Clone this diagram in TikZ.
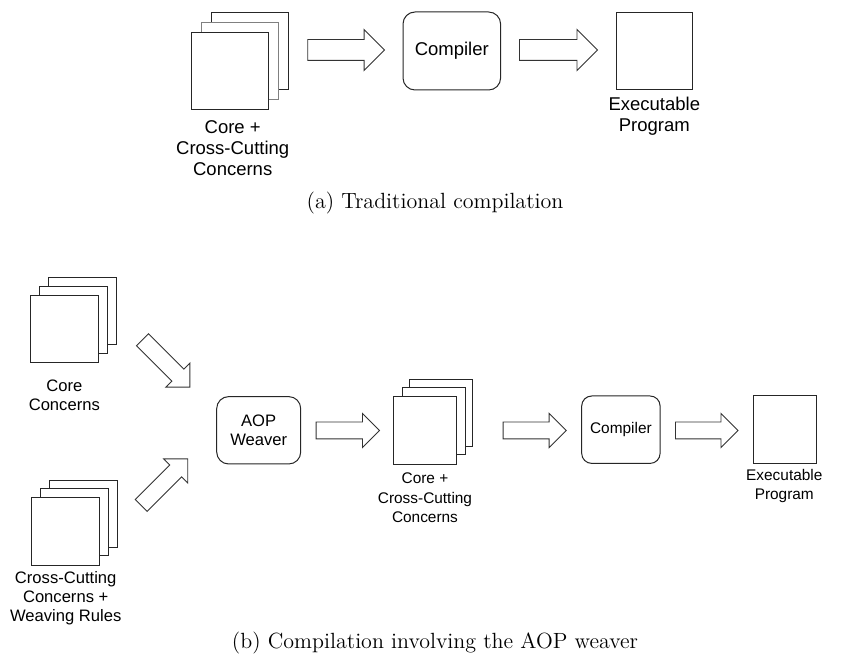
\documentclass[tikz,border=0pt]{standalone}
\usepackage{fontspec}
\newfontfamily\diagfont{Liberation Sans}
\usetikzlibrary{shapes.arrows}

\begin{document}
\begin{tikzpicture}[x=0.5pt, y=-0.5pt,
  page/.style={draw=black!85, fill=white, line width=0.5pt, inner sep=0pt},
  proc/.style={draw=black!85, fill=white, line width=0.5pt, inner sep=0pt, align=center},
  fatarrow/.style={single arrow, draw=black!80, fill=white, line width=0.45pt,
    inner xsep=0pt, single arrow head indent=0pt, anchor=tail},
  biglabel/.style={align=center, font=\diagfont\fontsize{9.25}{10.5}\selectfont},
  leftlabel/.style={align=center, font=\diagfont\fontsize{8.3}{9.5}\selectfont},
  smalllabel/.style={align=center, font=\diagfont\fontsize{7.7}{9.6}\selectfont},
  caption/.style={font=\fontsize{11}{13}\selectfont}]

\useasboundingbox (0,0) rectangle (862,657);

% Draw (a): traditional compilation
\begin{scope}[every node/.append style={minimum width=38.3pt, minimum height=38.5pt}]
\node[page] (srcA3) at (249.7,50.8) {};
\node[page, draw=black!50] (srcA2) at (239.7,60.8) {};
\node[page] (srcA1) at (229.7,70.8) {};
\node[page] (exeA) at (654.3,50.8) {};
\end{scope}
\node[biglabel] (srcAtext) at (232.7,147.7) {Core +\\Cross-Cutting\\Concerns};
\node[biglabel] (exeAtext) at (654.3,116.2) {Executable\\Program};

\node[proc, rounded corners=6pt, minimum width=48.8pt, minimum height=39pt,
  font=\diagfont\fontsize{9.25}{10.5}\selectfont] (compA) at (451.8,51) {Compiler};

% Block arrows of (a), placed by their tails
\begin{scope}[every node/.append style={inner ysep=5pt, single arrow head extend=5pt}]
\node[fatarrow, minimum height=38.4pt] (arrA1) at (307.3,50) {};
\node[fatarrow, minimum height=39pt] (arrA2) at (519,50) {};
\end{scope}

\node[caption] (capA) at (435,203) {(a) Traditional compilation};

% Draw (b): compilation with the weaver
% Core concerns
\begin{scope}[every node/.append style={minimum width=34pt, minimum height=33.6pt}]
\node[page] (coreB3) at (82.2,311.4) {};
\node[page] (coreB2) at (73.7,320) {};
\node[page] (coreB1) at (64.7,329.2) {};
% Cross-cutting concerns and weaving rules
\node[page] (ccB3) at (83,513.7) {};
\node[page] (ccB2) at (74.5,522.2) {};
\node[page] (ccB1) at (65.5,531.4) {};
\end{scope}
\node[leftlabel] (coreBtext) at (64.3,395.5) {Core\\Concerns};
\node[leftlabel] (ccBtext) at (65.7,598.3) {Cross-Cutting\\Concerns +\\Weaving Rules};

\node[proc, rounded corners=6pt, minimum width=42pt, minimum height=33.7pt,
  font=\diagfont\fontsize{8.3}{9.4}\selectfont] (weaver) at (258.7,430.3) {AOP\\Weaver};

% Woven program
\begin{scope}[every node/.append style={minimum width=31.5pt, minimum height=33.7pt}]
\node[page] (wovenB3) at (441.4,413) {};
\node[page] (wovenB2) at (433.7,421.2) {};
\node[page] (wovenB1) at (425.2,430.5) {};
\node[page] (exeB) at (784.7,429.7) {};
\end{scope}
\node[smalllabel] (wovenBtext) at (425,497.7) {Core +\\Cross-Cutting\\Concerns};
\node[smalllabel] (exeBtext) at (784.3,486.2) {Executable\\Program};

\node[proc, rounded corners=5pt, minimum width=39.2pt, minimum height=33.7pt,
  font=\diagfont\fontsize{7.7}{9.4}\selectfont] (compB) at (620.9,429.7) {Compiler};

% Block arrows of (b), placed by their tails
\begin{scope}[every node/.append style={inner ysep=4pt, single arrow head extend=4.3pt}]
\node[fatarrow, minimum height=33.5pt, rotate=-45] (arrCore) at (142.2,339.5) {};
\node[fatarrow, minimum height=33pt, rotate=45] (arrCC) at (140.8,505.8) {};
\node[fatarrow, minimum height=31.7pt] (arrB1) at (315.7,430.5) {};
\node[fatarrow, minimum height=31.5pt] (arrB2) at (502.7,430.5) {};
\node[fatarrow, minimum height=31.3pt] (arrB3) at (675,430.5) {};
\end{scope}

\node[caption] (capB) at (435,643) {(b) Compilation involving the AOP weaver};

\end{tikzpicture}
\end{document}
